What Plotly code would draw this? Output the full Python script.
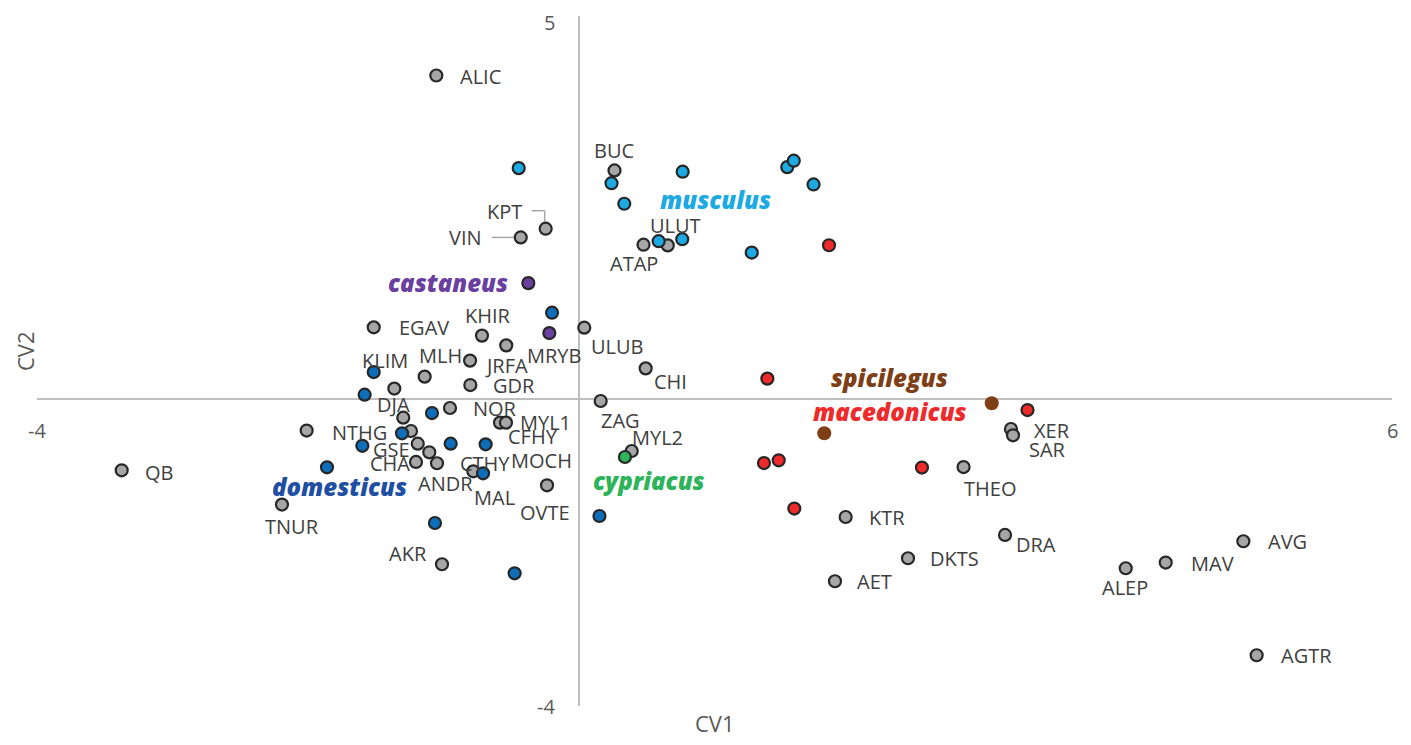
import plotly.graph_objects as go

# ---------------- data ----------------
# reference populations (grey markers)
ref_names = ["ALIC", "KPT", "VIN", "BUC", "ATAP", "ULUT", "EGAV", "KHIR", "MRYB", "ULUB",
             "JRFA", "MLH", "KLIM", "GDR", "CHI", "ZAG", "NOR", "DJA", "NTHG", "MOCH",
             "CFHY", "MYL1", "GSE", "ANDR", "CHA", "CTHY", "MAL", "OVTE", "TNUR", "QB",
             "AKR", "MYL2", "XER", "SAR", "THEO", "KTR", "DKTS", "AET", "DRA", "ALEP",
             "MAV", "AVG", "AGTR"]
ref_cv1 = [-1.053, -0.246, -0.430, 0.262, 0.476, 0.655, -1.515, -0.716, -0.537, 0.039,
           -0.804, -1.139, -1.363, -0.802, 0.492, 0.160, -0.952, -1.297, -2.010, -1.240,
           -0.583, -0.539, -1.190, -1.105, -1.203, -1.048, -0.780, -0.236, -2.192, -3.375,
           -1.011, 0.389, 3.188, 3.203, 2.838, 1.968, 2.428, 1.889, 3.144, 4.035,
           4.330, 4.903, 5.001]
ref_cv2 = [4.224, 2.226, 2.112, 2.986, 2.017, 2.008, 0.939, 0.831, 0.704, 0.935,
           0.505, 0.296, 0.140, 0.186, 0.404, -0.022, -0.113, -0.239, -0.407, -0.413,
           -0.304, -0.304, -0.578, -0.691, -0.817, -0.834, -0.939, -1.121, -1.373, -0.926,
           -2.151, -0.674, -0.387, -0.469, -0.883, -1.535, -2.073, -2.373, -1.769, -2.203,
           -2.129, -1.851, -3.338]

musculus_cv1 = [-0.445, 0.240, 0.334, 0.765, 1.537, 1.585, 1.731, 0.588, 0.762, 1.275]
musculus_cv2 = [3.016, 2.819, 2.551, 2.969, 3.029, 3.113, 2.803, 2.063, 2.089, 1.914]

domesticus_cv1 = [-0.199, -1.515, -1.582, -1.085, -1.306, -1.599, -0.947, -0.689, -1.860,
                  -0.708, -1.063, -0.475, 0.151]
domesticus_cv2 = [1.130, 0.356, 0.061, -0.179, -0.443, -0.606, -0.578, -0.587, -0.887,
                  -0.965, -1.613, -2.269, -1.522]

castaneus_cv1 = [-0.374, -0.219]
castaneus_cv2 = [1.516, 0.864]

macedonicus_cv1 = [1.845, 1.390, 1.365, 1.474, 2.531, 1.589, 3.310]
macedonicus_cv2 = [2.010, 0.270, -0.831, -0.795, -0.890, -1.425, -0.140]

spicilegus_cv1 = [1.810, 3.046]
spicilegus_cv2 = [-0.443, -0.052]

cypriacus_cv1 = [0.339]
cypriacus_cv2 = [-0.752]

x_ticks = [-4, 6]
y_ticks = [-4, 5]

# ---------------- styling ----------------
FONT = "Open Sans"
LABEL_COLOR = "#404040"
AXIS_TEXT = "#595959"
EDGE = "#262626"

# label offsets in screen pixels (dx right, dy down) relative to each point
LABEL_OFFSETS = {
    "ALIC": (44, 1), "KPT": (-41, -17), "VIN": (-55, 0), "BUC": (-1, -20), "ATAP": (-10, 19),
    "ULUT": (8, -20), "EGAV": (50, 0), "KHIR": (6, -20), "MRYB": (48, 10), "ULUB": (33, 19),
    "JRFA": (36, 5), "MLH": (16, -21), "KLIM": (-9, -28), "GDR": (44, 0), "CHI": (25, 13),
    "ZAG": (20, 19), "NOR": (45, 0), "DJA": (-10, -13), "NTHG": (53, 2), "MOCH": (131, 29),
    "CFHY": (33, 14), "MYL1": (40, 0), "GSE": (-26, 6), "ANDR": (16, 31), "CHA": (-26, 2),
    "CTHY": (48, 0), "MAL": (21, 26), "OVTE": (-2, 27), "TNUR": (10, 22), "QB": (37, 2),
    "AKR": (-34, -11), "MYL2": (26, -14), "XER": (41, 1), "SAR": (34, 14), "THEO": (26, 21),
    "KTR": (41, 0), "DKTS": (47, 0), "AET": (40, 0), "DRA": (31, 10), "ALEP": (-1, 19),
    "MAV": (47, 1), "AVG": (44, 0), "AGTR": (50, 0),
}

# leader lines (pixel segments relative to the point; x right, y up)
LEADERS = {
    "KPT": [((-14, 18), (-1, 18)), ((-1, 18), (-1, 7))],
    "VIN": [((-29, 0), (-7, 0))],
}

groups = [
    # name, x, y, marker fill, text colour, label position (data units), border
    ("ref", ref_cv1, ref_cv2, "#A6A6A6", None, None, True),
    ("musculus", musculus_cv1, musculus_cv2, "#1DAAE2", "#1DAAE2", (1.011, 2.604), True),
    ("castaneus", castaneus_cv1, castaneus_cv2, "#6A3FA0", "#6A3FA0", (-0.967, 1.529), True),
    ("domesticus", domesticus_cv1, domesticus_cv2, "#0F6EBA", "#1F4FA3", (-1.764, -1.134), True),
    ("cypriacus", cypriacus_cv1, cypriacus_cv2, "#2DB35A", "#2DB35A", (0.513, -1.056), True),
    ("macedonicus", macedonicus_cv1, macedonicus_cv2, "#EE2A2A", "#EE2A2A", (2.292, -0.153), True),
    ("spicilegus", spicilegus_cv1, spicilegus_cv2, "#7E3F17", "#7E3F17", (2.292, 0.291), False),
]

fig = go.Figure()
annotations = []
shapes = []

for name, xs, ys, fill, tcol, lpos, border in groups:
    fig.add_trace(go.Scatter(
        x=xs, y=ys, mode="markers", name=name, showlegend=False,
        marker=dict(size=12 if border else 14, color=fill,
                    line=dict(color=EDGE, width=2.2 if border else 0)),
        hoverinfo="skip",
    ))
    if lpos is not None:
        annotations.append(dict(
            x=lpos[0], y=lpos[1], xref="x", yref="y", text=name, showarrow=False,
            xanchor="center", yanchor="middle",
            font=dict(family=FONT, size=24, color=tcol, weight=800, style="italic"),
        ))

# point labels
for nm, xv, yv in zip(ref_names, ref_cv1, ref_cv2):
    dx, dy = LABEL_OFFSETS[nm]
    annotations.append(dict(
        x=xv, y=yv, xref="x", yref="y", text=nm, showarrow=False,
        xanchor="center", yanchor="middle", xshift=dx, yshift=-dy,
        font=dict(family=FONT, size=20, color=LABEL_COLOR),
    ))
    for (p0, p1) in LEADERS.get(nm, []):
        shapes.append(dict(
            type="line", xref="x", yref="y", xsizemode="pixel", ysizemode="pixel",
            xanchor=xv, yanchor=yv, x0=p0[0], y0=p0[1], x1=p1[0], y1=p1[1],
            line=dict(color="#A6A6A6", width=1.5), layer="below",
        ))

# axis tick labels at the crossing axes
for t in x_ticks:
    annotations.append(dict(x=t, y=0, xref="x", yref="y", text=str(t), showarrow=False,
                            xanchor="center", yanchor="middle", yshift=-31,
                            font=dict(family=FONT, size=20, color=AXIS_TEXT)))
for t in y_ticks:
    annotations.append(dict(x=0, y=t, xref="x", yref="y", text=str(t), showarrow=False,
                            xanchor="right", yanchor="middle", xshift=-23,
                            yshift=-6 if t == max(y_ticks) else 0, borderpad=0,
                            font=dict(family=FONT, size=20, color=AXIS_TEXT)))

# axis titles
annotations.append(dict(x=0, y=0, xref="x", yref="paper", text="CV1", showarrow=False,
                        xanchor="center", yanchor="middle", xshift=136, yshift=-17,
                        font=dict(family=FONT, size=22, color=AXIS_TEXT)))
annotations.append(dict(x=0, y=0.5, xref="paper", yref="paper", text="CV2", showarrow=False,
                        xanchor="center", yanchor="middle", xshift=-12, yshift=10, textangle=-90,
                        borderpad=0,
                        font=dict(family=FONT, size=22, color=AXIS_TEXT)))

# the page body has an 8px margin, so the figure is 16px smaller than the window
fig.update_layout(
    width=1395, height=729,
    margin=dict(l=29, r=11, t=8, b=31),
    paper_bgcolor="white", plot_bgcolor="white",
    xaxis=dict(range=[-4, 6], showgrid=False, zeroline=True, zerolinecolor="#BFBFBF",
               zerolinewidth=1.5, showticklabels=False, ticks="", showline=False),
    yaxis=dict(range=[-4, 5], showgrid=False, zeroline=True, zerolinecolor="#BFBFBF",
               zerolinewidth=1.5, showticklabels=False, ticks="", showline=False),
    annotations=annotations,
    shapes=shapes,
    font=dict(family=FONT),
)

fig.write_html("out.html")
